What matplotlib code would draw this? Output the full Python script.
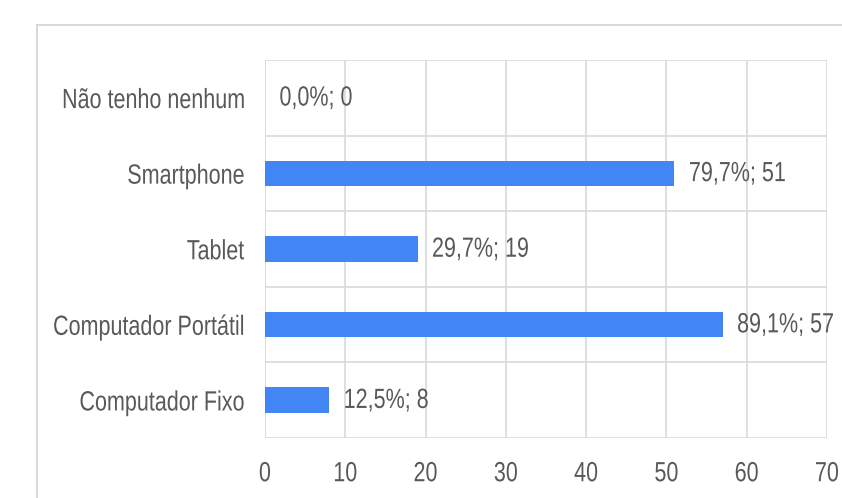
import matplotlib
matplotlib.use("Agg")
import matplotlib.pyplot as plt
from matplotlib.lines import Line2D
from matplotlib.patheffects import AbstractPathEffect
from matplotlib.transforms import Affine2D

# Data (top to bottom as shown)
categories = ["Não tenho nenhum", "Smartphone", "Tablet", "Computador Portátil", "Computador Fixo"]
counts = [0, 51, 19, 57, 8]
percents = ["0,0%", "79,7%", "29,7%", "89,1%", "12,5%"]
xticks = [0, 10, 20, 30, 40, 50, 60, 70]

plt.rcParams["font.family"] = ["Liberation Sans", "DejaVu Sans"]

text_color = "#595959"
grid_color = "#d9d9d9"
bar_color = "#4285f4"
fsize = 15.5
stretch = 1.29  # the original uses a tall condensed face


class Tall(AbstractPathEffect):
    """Stretch glyphs vertically about the middle of the cap height."""

    def __init__(self, sy):
        super().__init__()
        self.sy = sy

    def draw_path(self, renderer, gc, tpath, affine, rgbFace=None):
        yc = 36.0  # half cap height in text-path units (em = 100)
        tr = Affine2D().translate(0, -yc).scale(1, self.sy).translate(0, yc) + affine
        renderer.draw_path(gc, tpath, tr, rgbFace)


tall = [Tall(stretch)]

fig = plt.figure(figsize=(8.42, 4.98), dpi=100)
ax = fig.add_axes([265 / 842, 1 - 438 / 498, (827 - 265) / 842, (438 - 60) / 498])

y = list(range(len(categories)))
ax.barh(y, counts, height=0.34, color=bar_color, zorder=3)
for yi, c, p in zip(y, counts, percents):
    ax.text(c + 1.8, yi, f"{p}; {c}", va="center", ha="left",
            fontsize=fsize, color=text_color, zorder=4, path_effects=tall)

ax.set_xlim(0, 70)
ax.set_ylim(len(categories) - 0.5, -0.5)
ax.set_xticks(xticks)
ax.set_xticklabels([str(t) for t in xticks])
ax.set_yticks(y)
ax.set_yticklabels(categories)
ax.tick_params(axis="x", length=0, pad=18, labelsize=fsize, labelcolor=text_color)
ax.tick_params(axis="y", length=0, pad=15, labelsize=fsize, labelcolor=text_color)
for lab in ax.get_xticklabels() + ax.get_yticklabels():
    lab.set_path_effects(tall)

# vertical gridlines
ax.grid(axis="x", color=grid_color, linewidth=1.2, zorder=0)
# horizontal separators between categories
for b in [i - 0.5 for i in range(len(categories) + 1)]:
    ax.axhline(b, color=grid_color, linewidth=1.2, zorder=0)
for s in ax.spines.values():
    s.set_visible(False)
ax.axvline(0, color=grid_color, linewidth=1.2, zorder=2)

# outer chart frame (top and left edge)
fig.add_artist(Line2D([37 / 842, 1], [1 - 25 / 498, 1 - 25 / 498],
                      transform=fig.transFigure, color=grid_color, linewidth=1.5))
fig.add_artist(Line2D([37 / 842, 37 / 842], [0, 1 - 25 / 498],
                      transform=fig.transFigure, color=grid_color, linewidth=1.5))

fig.savefig("out.png", dpi=100)
